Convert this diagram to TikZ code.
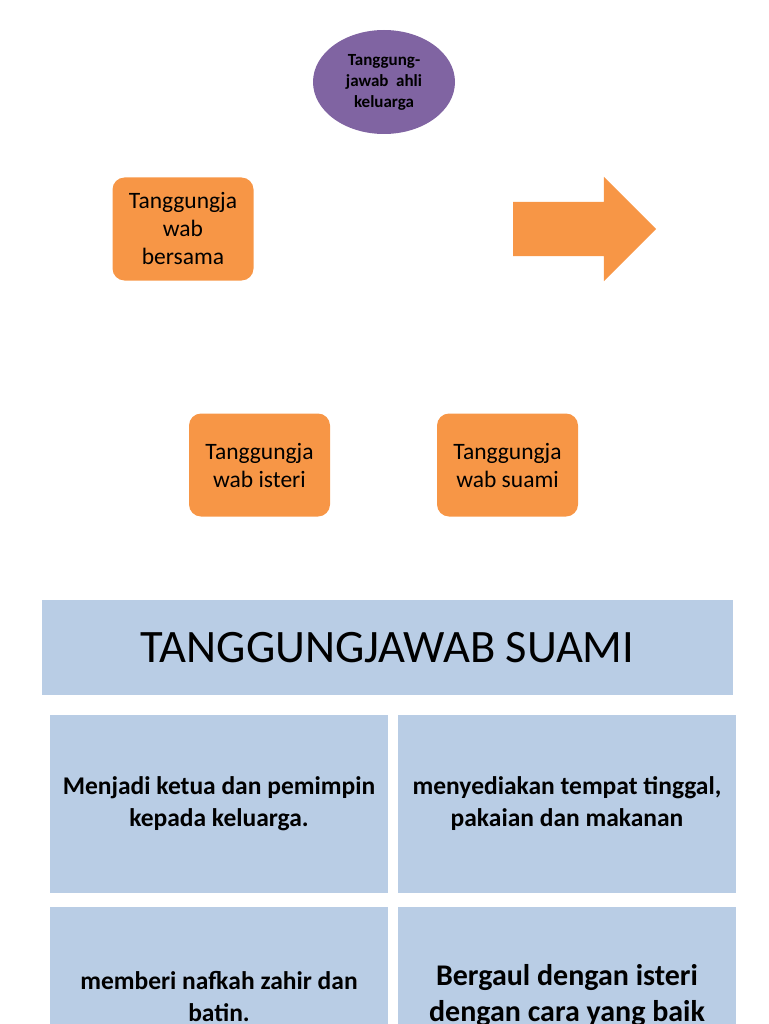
\documentclass[tikz,border=0pt]{standalone}
\usepackage{fontspec}
\setmainfont{Carlito}
\usetikzlibrary{positioning, shapes.geometric, shapes.arrows}

\definecolor{ungu}{HTML}{8064A2}
\definecolor{oren}{HTML}{F79646}
\definecolor{biru}{HTML}{B9CDE5}

\begin{document}
\begin{tikzpicture}[
  x=1pt, y=-1pt,
  pusat/.style={ellipse, fill=ungu, minimum width=142pt, minimum height=104pt,
                inner sep=0pt, align=center,
                font=\fontsize{17}{21}\selectfont\bfseries},
  kotak/.style={rectangle, rounded corners=12pt, fill=oren, minimum width=141pt,
                minimum height=103pt, inner sep=0pt, outer sep=0pt, align=center,
                font=\fontsize{23.5}{28}\selectfont},
  panahbesar/.style={single arrow, fill=oren, minimum width=104pt,
                minimum height=143pt, single arrow head extend=25pt,
                single arrow head indent=0pt, inner xsep=0pt, inner ysep=27pt,
                outer sep=0pt},
  tajuk/.style={rectangle, fill=biru, minimum width=691pt, minimum height=95pt,
                inner sep=0pt, outer sep=0pt, font=\fontsize{46.5}{54}\selectfont},
  sel/.style={rectangle, fill=biru, minimum width=338pt, minimum height=178pt,
              inner sep=0pt, outer sep=0pt, align=center,
              font=\fontsize{25.5}{32}\selectfont\bfseries},
]
\useasboundingbox (0,0) rectangle (768,1024);
\clip (0,0) rectangle (768,1024);

\node[pusat] (ahli) at (384,82) {Tanggung-\\jawab~~ahli\\keluarga};

\node[kotak] (bersama) at (183,229) {Tanggungja\\wab\\bersama};

\node[panahbesar, anchor=tip] (panah) at (656,229) {};

\node[kotak] (isteri) at (259.5,465) {Tanggungja\\wab isteri};

\node[kotak, right=107pt of isteri] (suami) {Tanggungja\\wab suami};

% ---- jadual ----
\node[tajuk] (judul) at (387.5,647.5) {TANGGUNGJAWAB SUAMI};

\node[sel] (ketua) at (219,804) {Menjadi ketua dan pemimpin\\kepada keluarga.};

\node[sel, right=10pt of ketua] (tempat) {menyediakan tempat tinggal,\\pakaian dan makanan};

\node[sel, below=14pt of ketua] (nafkah) {memberi nafkah zahir dan\\batin.};

\node[sel, right=10pt of nafkah, font=\fontsize{30}{36}\selectfont\bfseries] (bergaul)
  {Bergaul dengan isteri\\dengan cara yang baik};

\end{tikzpicture}
\end{document}
